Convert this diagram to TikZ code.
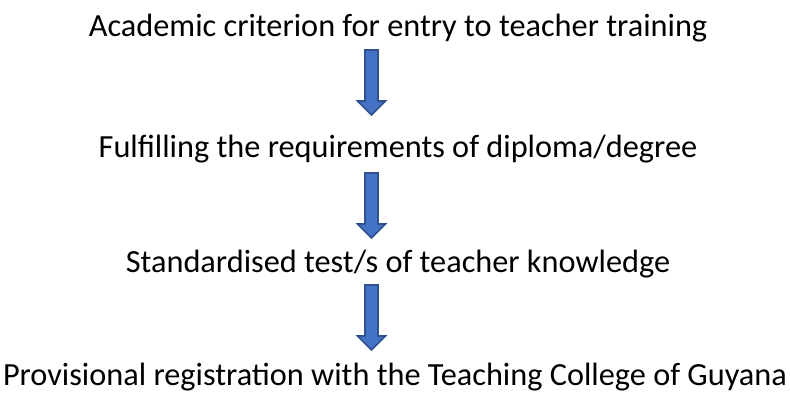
\documentclass[tikz,border=0pt]{standalone}
\usepackage{fontspec}
\setmainfont{Carlito}
\begin{document}
\begin{tikzpicture}[x=1pt,y=-1pt,
  stage/.style={anchor=base, inner sep=0pt, font=\fontsize{32.3}{38}\selectfont},
  fatarrow/.style={draw=arrowedge, fill=arrowfill, line width=1.6pt, line join=miter}]
\definecolor{arrowfill}{HTML}{4472C4}
\definecolor{arrowedge}{HTML}{2F528F}
\useasboundingbox (0,0) rectangle (790,392);
\node[stage] (s1) at (398,36) {Academic criterion for entry to teacher training};
\node[stage] (s2) at (398,157) {Fulfilling the requirements of diploma/degree};
\node[stage] (s3) at (398,272) {Standardised test/s of teacher knowledge};
\node[stage] (s4) at (395,385) {Provisional registration with the Teaching College of Guyana};
% block arrows between consecutive stages
\newcommand{\blockarrow}[2]{%
  \coordinate (#1) at #2;
  \draw[fatarrow] (#1) ++(-6.5,0) -- ++(13,0) -- ++(0,51) -- ++(7.5,0)
    -- ++(-14,14) -- ++(-14,-14) -- ++(7.5,0) -- cycle;}
\blockarrow{a1}{(371.5,50)}
\blockarrow{a2}{(371.5,173)}
\blockarrow{a3}{(371.5,285)}
\end{tikzpicture}
\end{document}
